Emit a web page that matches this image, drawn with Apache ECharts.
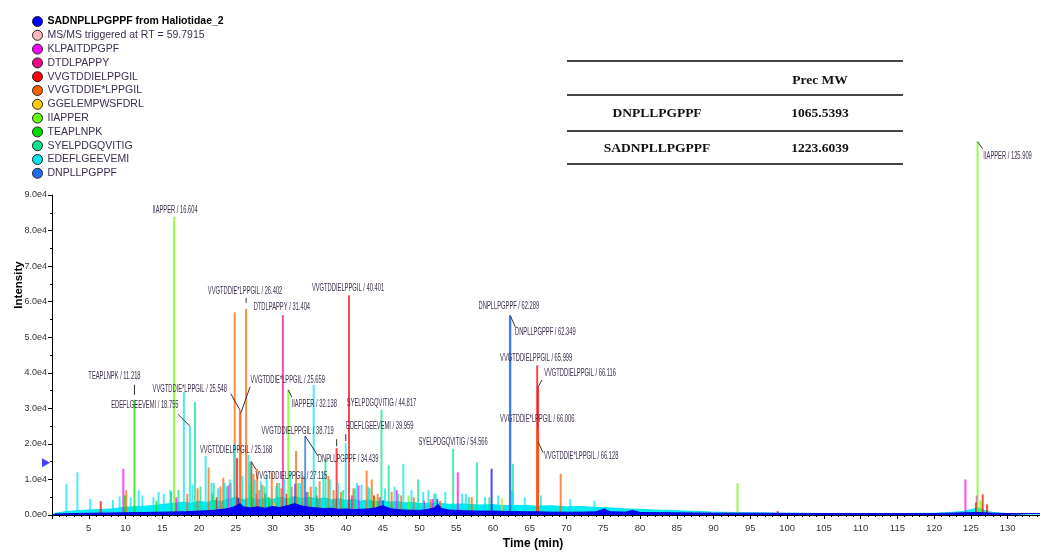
<!DOCTYPE html>
<html><head><meta charset="utf-8">
<script src="https://cdn.jsdelivr.net/npm/echarts@6/dist/echarts.min.js"></script>
<style>html,body{margin:0;padding:0;background:#fff}#c{width:1040px;height:555px}</style>
</head><body><div id="c"></div>
<script>
// ---------- legend / compounds ----------
const legendNames = ['SADNPLLPGPPF from Haliotidae_2','MS/MS triggered at RT = 59.7915','KLPAITDPGPF','DTDLPAPPY','VVGTDDIELPPGIL','VVGTDDIE*LPPGIL','GGELEMPWSFDRL','IIAPPER','TEAPLNPK','SYELPDGQVITIG','EDEFLGEEVEMI','DNPLLPGPPF'];
const legendColors = ['#0000ff','#ffb6c1','#ff00ff','#f0088a','#ff0000','#ff6000','#ffcc00','#66ff00','#00dd00','#00e68a','#00e5f0','#1e6fe8'];

// ---------- peaks [RT (min), intensity] ----------
const peaksSADNPLLPGPPF = [[25.4,4800],[33.1,8800],[45.0,4000],[52.4,4500],[59.8,13000],[75.2,1900]];
const peaksMSMS = [];
const peaksKLPAITDPGPF = [[9.7,13000],[16.9,5000],[24.0,8300],[27.8,6000],[34.6,6500],[40.8,5500],[41.7,8300],[44.6,5000],[46.9,7000],[51.8,4500],[55.2,12000],[89.5,800],[124.25,10000],[125.8,5500]];
const peaksDTDLPAPPY = [[29.0,6000],[31.404,56200],[36.0,5500],[50.6,4000]];
const peaksVVGTDDIELPPGIL = [[6.63,3900],[22.4,5000],[25.168,16000],[27.115,15000],[31.9,6000],[38.719,18800],[40.401,61800],[43.8,5500],[65.999,42100],[66.116,36000],[98.7,1100],[125.7,3500],[126.6,5800],[127.2,3000]];
const peaksVVGTDDIEsLPPGIL = [[10.1,7000],[18.4,6000],[19.8,7500],[21.3,13400],[22.9,8000],[23.3,10500],[24.3,9000],[24.85,57000],[25.548,29600],[25.659,28500],[26.402,58000],[27.4,11600],[27.9,13000],[28.2,7000],[28.6,8500],[29.9,12000],[30.6,9000],[31.2,7500],[32.6,8000],[33.2,18000],[34.0,10500],[35.2,8000],[36.4,9500],[37.6,11000],[38.3,7000],[39.3,6500],[41.0,7500],[42.8,12500],[43.5,10000],[44.3,6000],[46.2,6500],[47.5,5500],[49.2,5000],[51.5,4500],[52.8,4000],[57.1,5000],[66.006,24100],[66.128,20500],[69.2,11600]];
const peaksGGELEMPWSFDRL = [[30.2,3500],[43.1,3000],[61.2,4700],[92.0,800],[127.5,1000]];
const peaksIIAPPER = [[16.604,83900],[26.9,9000],[32.138,35200],[44.0,5000],[48.5,5500],[93.25,8900],[125.909,105000],[126.3,4000]];
const peaksTEAPLNPK = [[9.9,5500],[11.218,32400],[14.2,4000],[16.2,6500],[21.8,6000],[27.1,7000],[29.5,5000],[34.8,6500]];
const peaksSYELPDGQVITIG = [[17.2,7000],[19.45,31800],[20.2,8000],[22.0,9000],[23.8,8000],[26.9,15000],[28.9,8000],[30.9,9000],[33.5,9000],[35.9,8000],[37.2,15700],[39.6,7000],[41.2,7500],[43.2,7500],[44.817,29600],[45.8,14000],[47.1,6000],[49.8,10000],[52.0,6000],[54.566,18600],[56.7,5000],[57.8,14800],[59.5,5000],[62.7,14400]];
const peaksEDEFLGEEVEMI = [[1.96,8800],[3.46,12000],[5.2,4500],[8.3,4200],[9.2,5200],[10.7,5000],[11.8,7000],[12.3,5500],[13.8,5000],[14.5,6500],[15.2,6000],[16.1,7000],[17.94,34600],[18.755,25000],[19.1,8500],[20.9,16600],[21.7,9000],[22.6,7500],[23.5,9000],[24.2,10000],[24.8,20000],[25.9,11000],[26.7,17000],[27.6,10000],[28.4,9500],[29.2,11500],[30.5,8000],[31.6,10000],[32.4,12000],[33.8,9000],[34.3,11000],[35.6,36600],[36.9,12000],[37.8,10000],[38.9,9000],[39.959,20200],[41.5,9000],[42.1,8500],[43.0,8000],[45.3,7500],[46.6,8000],[47.8,14400],[48.9,7000],[50.5,6500],[51.2,7000],[52.2,6000],[53.5,6500],[55.8,6000],[56.3,6000],[58.9,5000],[60.7,5500],[62.6,7000],[64.3,5000],[66.5,5500],[70.5,4500],[73.8,4000]];
const peaksDNPLLPGPPF = [[34.439,22200],[62.289,56200],[62.349,56000]];

// ---------- baselines [RT, intensity] ----------
const baselineEDEFLGEEVEMI = [[0,0],[0.5,500],[2,1000],[4,1300],[6,1500],[8,1700],[10,2200],[12,2400],[14,2700],[16,3200],[18,3600],[19,3300],[20,3900],[21,3500],[22,4100],[23,3800],[24,4500],[25,5000],[26,4300],[27,4800],[28,4200],[29,4700],[30,4400],[31,5000],[32,4500],[33,5200],[34,4600],[35,5000],[36,4500],[37,4800],[38,4300],[39,4600],[40,4100],[41,4400],[42,3900],[43,4200],[44,3700],[45,4000],[46,3600],[47,3800],[48,3400],[49,3600],[50,3200],[52,3400],[54,3000],[56,3100],[58,2800],[60,2900],[62,2600],[64,2700],[66,2500],[68,2600],[70,2300],[72,2400],[74,2100],[76,2000],[78,1700],[80,1600],[82,1400],[84,1300],[86,1100],[88,1000],[90,800],[93,700],[96,600],[100,500],[105,400],[110,400],[115,400],[120,500],[122,700],[124,1000],[125,1500],[126,2000],[127,1200],[128,700],[130,400],[134.4,300]];
const baselineSADNPLLPGPPF = [[0,0],[0.5,300],[5,500],[10,600],[15,800],[18,900],[20,1100],[22,1300],[24,1800],[25,2500],[25.6,3200],[26,2300],[27,2000],[28,2300],[29,1900],[30,2400],[31,2100],[32,2600],[33,3200],[34,2500],[35,2200],[36,2000],[37,1800],[38,1900],[39,1600],[40,1700],[41,1500],[42,1600],[43,1700],[44,2000],[45,2600],[46,1800],[47,1500],[48,1400],[50,1300],[51,1500],[52,2000],[52.5,3000],[53,1800],[54,1400],[56,1200],[58,1100],[60,1100],[62,1000],[64,900],[66,900],[68,800],[70,800],[72,800],[74,900],[75,1600],[76,900],[78,800],[79,1300],[80,700],[85,600],[90,500],[95,500],[100,450],[110,400],[120,400],[124,600],[126,700],[128,500],[130,400],[134.4,400]];
const precursorMarker = [[0,14700]];

// ---------- peak annotations ----------
const annNames = ['IIAPPER','TEAPLNPK','EDEFLGEEVEMI','VVGTDDIE*LPPGIL','VVGTDDIE*LPPGIL','VVGTDDIE*LPPGIL','DTDLPAPPY','VVGTDDIELPPGIL','IIAPPER','VVGTDDIELPPGIL','DNPLLPGPPF','EDEFLGEEVEMI','SYELPDGQVITIG','SYELPDGQVITIG','DNPLLPGPPF','DNPLLPGPPF','VVGTDDIELPPGIL','VVGTDDIELPPGIL','VVGTDDIE*LPPGIL','VVGTDDIE*LPPGIL','VVGTDDIELPPGIL','VVGTDDIELPPGIL','IIAPPER'];
const annRT = [16.604,11.218,18.755,25.548,25.659,26.402,31.404,40.401,32.138,38.719,34.439,39.959,44.817,54.566,62.289,62.349,65.999,66.116,66.006,66.128,25.168,27.115,125.909];
const annIntensity = [83900,32400,25000,29600,28500,58000,56200,61800,35200,18800,22200,20200,29600,18600,56200,56000,42100,36000,24100,20500,16000,15000,105000];

// ---------- table ----------
const tableHeader = ['', 'Prec MW'];
const tableRows = [['DNPLLPGPPF','1065.5393'],['SADNPLLPGPPF','1223.6039']];

// ---------- layout (pixel offsets, not data) ----------
const annLabelOffset = [[1,-7],[-20,-24],[-45,-21],[-50,-21],[47,-34],[-1,-18],[-1,-8],[-1,-7],[26,14],[-39,-17],[43,23],[34,-17],[0,-7],[0,-7],[-1,-9],[35,16],[-1,-7],[42,-14],[0,-10],[43,14],[-1,-8],[40,14],[30,14]];
const annLeader = [null,[0,-5,0,-15],[0,0,-12,-12],[0,0,-9,-16],[0,0,9.5,-27],[0,-6,0,-11],null,null,[0,0,3.5,7],[0,-2,0,-9],[0,0,13,20],[0,-2,0,-9],null,null,null,[0,0,5,11],null,[0,0,4,-7],null,[0,0,5,10.5],null,[0,0,4.7,8],[0,0,5,7]];

const peakSets = [peaksSADNPLLPGPPF, peaksMSMS, peaksKLPAITDPGPF, peaksDTDLPAPPY, peaksVVGTDDIELPPGIL, peaksVVGTDDIEsLPPGIL, peaksGGELEMPWSFDRL, peaksIIAPPER, peaksTEAPLNPK, peaksSYELPDGQVITIG, peaksEDEFLGEEVEMI, peaksDNPLLPGPPF];

const chart = echarts.init(document.getElementById('c'), null, {renderer:'canvas'});
const sans = '"Liberation Sans",Arial,sans-serif';

const series = [];
legendNames.forEach((name, i) => {
  if (i === 1) {
    series.push({name, type:'scatter', data: peaksMSMS, itemStyle:{color: legendColors[i]}});
    return;
  }
  series.push({
    name, type:'bar', data: peakSets[i], barWidth: 2, barGap:'-100%', clip:false, z:2,
    itemStyle:{color: legendColors[i], opacity: 0.72}, emphasis:{disabled:true}
  });
});
series.push({name: legendNames[10], type:'line', data: baselineEDEFLGEEVEMI, showSymbol:false, z:1,
  lineStyle:{color:'#00e5f0', width:1}, itemStyle:{color:'#00e5f0'}, areaStyle:{color:'#00ecf4', opacity:1}});
series.push({name: legendNames[0], type:'line', data: baselineSADNPLLPGPPF, showSymbol:false, z:3,
  lineStyle:{color:'#0000dd', width:1}, itemStyle:{color:'#0000ff'}, areaStyle:{color:'#0000ff', opacity:1}});
series.push({type:'scatter', data: precursorMarker, symbol:'triangle', symbolRotate:-90, symbolSize:[9,8], symbolOffset:[-6,0], clip:false, z:5, silent:true, itemStyle:{color:'#1010ff'}});

chart.setOption({
  animation:false,
  backgroundColor:'#fff',
  grid:{left:52, right:0, top:195, bottom:35, containLabel:false},
  legend:{
    data: legendNames, orient:'vertical', left:27, top:11, icon:'circle', itemWidth:10, itemHeight:10, itemGap:2.8,
    selectedMode:false,
    itemStyle:{borderColor:'#222', borderWidth:1, opacity:1},
    textStyle:{fontFamily:sans, fontSize:10.5, color:'#3b2d4f',
      rich:{b:{fontWeight:'bold', color:'#000', fontSize:10.5, fontFamily:sans}}},
    formatter: n => n === legendNames[0] ? '{b|' + n + '}' : n
  },
  xAxis:{
    type:'value', min:0, max:134.4, interval:5,
    name:'Time (min)', nameLocation:'middle', nameGap:23,
    nameTextStyle:{fontWeight:'bold', fontSize:12, color:'#000', fontFamily:sans, padding:[0,26,0,0]},
    axisLine:{lineStyle:{color:'#000', width:1}},
    axisTick:{length:4, lineStyle:{color:'#000'}},
    minorTick:{show:true, splitNumber:5, length:2, lineStyle:{color:'#000'}},
    splitLine:{show:false},
    axisLabel:{showMinLabel:false, showMaxLabel:false, fontSize:9.5, color:'#333', margin:8, fontFamily:sans}
  },
  yAxis:{
    type:'value', min:0, max:90000, interval:10000,
    axisLine:{show:true, lineStyle:{color:'#000', width:1}},
    axisTick:{show:true, length:4, lineStyle:{color:'#000'}},
    minorTick:{show:true, splitNumber:2, length:2, lineStyle:{color:'#000'}},
    splitLine:{show:false},
    axisLabel:{fontSize:9, color:'#333', margin:5, fontFamily:sans,
      formatter: v => { if (v === 0) return '0.0e0'; const e = Math.floor(Math.log10(v)); return (v/Math.pow(10,e)).toFixed(1)+'e'+e; }}
  },
  series
});

// ---------- graphics: table, axis title, annotations ----------
function buildGraphics(){
  const els = [];
  const tl = [567, 903], ty = [61, 95, 131, 164];
  ty.forEach(y => els.push({type:'line', shape:{x1:tl[0], y1:y, x2:tl[1], y2:y}, style:{stroke:'#444', lineWidth:2}}));
  const colX = [657, 820], rowY = [80.5, 114, 149];
  const serif = '"Liberation Serif","Times New Roman",serif';
  [tableHeader].concat(tableRows).forEach((row, r) => row.forEach((txt, c) => {
    if (!txt) return;
    els.push({type:'text', x: colX[c], y: rowY[r], style:{text: txt, fontFamily: serif, fontWeight:'bold', fontSize:13.5, fill:'#111', align:'center', verticalAlign:'middle', textAlign:'center', textVerticalAlign:'middle'}});
  }));
  els.push({type:'text', x:19, y:285, rotation: Math.PI/2, style:{text:'Intensity', fontFamily:sans, fontWeight:'bold', fontSize:11.5, fill:'#000', align:'center', verticalAlign:'middle', textAlign:'center', textVerticalAlign:'middle'}});
  annRT.forEach((rt, i) => {
    const p = chart.convertToPixel({gridIndex:0}, [rt, annIntensity[i]]);
    const o = annLabelOffset[i];
    els.push({type:'text', x: p[0]+o[0], y: p[1]+o[1], scaleX:0.55, z:100,
      style:{text: annNames[i] + ' / ' + rt.toFixed(3), fontFamily:sans, fontSize:10.5, fill:'#3b2d4a', align:'center', verticalAlign:'middle', textAlign:'center', textVerticalAlign:'middle'}});
    const l = annLeader[i];
    if (l) els.push({type:'line', z:100, shape:{x1:p[0]+l[0], y1:p[1]+l[1], x2:p[0]+l[2], y2:p[1]+l[3]}, style:{stroke:'#333', lineWidth:1}});
  });
  chart.setOption({graphic: els});
}
buildGraphics();
</script></body></html>
